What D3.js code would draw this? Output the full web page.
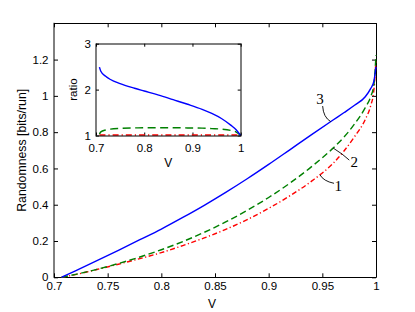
<!DOCTYPE html>
<html>
<head>
<meta charset="utf-8">
<script src="https://cdn.jsdelivr.net/npm/d3@7"></script>
<style>
  body { margin: 0; background: #fff; }
  text { font-family: "Liberation Sans", Arial, sans-serif; }
</style>
</head>
<body>
<div id="chart"></div>
<script>
// main plot: randomness vs V
var vGrid   = [0.7071, 0.72, 0.74, 0.76, 0.78, 0.80, 0.82, 0.84, 0.86, 0.88, 0.90, 0.92, 0.94, 0.96, 0.97, 0.98, 0.99, 0.995, 0.998, 1.0];
var curve1  = [0, 0.015, 0.043, 0.072, 0.103, 0.136, 0.175, 0.217, 0.264, 0.318, 0.380, 0.450, 0.530, 0.628, 0.695, 0.775, 0.87, 0.945, 1.03, 1.2];
var curve2  = [0, 0.016, 0.044, 0.076, 0.112, 0.152, 0.197, 0.248, 0.305, 0.369, 0.440, 0.520, 0.610, 0.712, 0.772, 0.845, 0.935, 0.995, 1.06, 1.225];
var curve3  = [0, 0.036, 0.092, 0.149, 0.207, 0.266, 0.330, 0.397, 0.468, 0.543, 0.622, 0.704, 0.786, 0.867, 0.907, 0.948, 0.995, 1.04, 1.08, 1.16];

// inset: ratio vs V
var ratioV  = [0.7071, 0.71, 0.72, 0.73, 0.75, 0.78, 0.80, 0.83, 0.86, 0.89, 0.92, 0.94, 0.96, 0.98, 0.99, 1.0];
var ratio1  = [1.01, 1.01, 1.01, 1.01, 1.01, 1.01, 1.01, 1.01, 1.01, 1.01, 1.01, 1.01, 1.01, 1.01, 1.01, 1.0];
var ratio2  = [1.03, 1.08, 1.12, 1.14, 1.155, 1.165, 1.168, 1.17, 1.17, 1.165, 1.16, 1.15, 1.14, 1.11, 1.08, 1.0];
var ratio3  = [2.49, 2.40, 2.29, 2.22, 2.13, 2.03, 1.97, 1.88, 1.78, 1.68, 1.57, 1.48, 1.37, 1.22, 1.13, 1.0];

var xTicks = [0.7, 0.75, 0.8, 0.85, 0.9, 0.95, 1];
var yTicks = [0, 0.2, 0.4, 0.6, 0.8, 1, 1.2];
var insetXTicks = [0.7, 0.8, 0.9, 1];
var insetYTicks = [1, 2, 3];

// curve labels, in data units (V, randomness)
var curveLabels = [
  {text: "3", at: [0.9478, 0.986], from: [0.9503, 0.944], ctrl: [0.9509, 0.882], to: [0.9578, 0.858]},
  {text: "2", at: [0.9798, 0.637], from: [0.9602, 0.712], ctrl: [0.9690, 0.680], to: [0.9751, 0.646]},
  {text: "1", at: [0.9649, 0.503], from: [0.9478, 0.565], ctrl: [0.9510, 0.530], to: [0.9609, 0.518]}
];

var W = 415, H = 312;
var margin = {top: 23.3, right: 39, bottom: 34.7, left: 54};

var svg = d3.select("#chart").append("svg")
    .attr("width", W)
    .attr("height", H);

var x = d3.scaleLinear().domain([0.7, 1]).range([margin.left, W - margin.right]);
var y = d3.scaleLinear().domain([0, 1.4]).range([H - margin.bottom, margin.top]);

var fontSize = 11.5;
var plain = function(d) { return String(d); };

function styleAxis(g) {
  g.attr("font-family", "Liberation Sans, Arial, sans-serif").attr("font-size", fontSize);
  g.select(".domain").remove();
  g.selectAll(".tick line").attr("stroke", "#000");
  g.selectAll(".tick text").attr("fill", "#000");
}

// main axes, ticks pointing in
svg.append("g")
    .attr("transform", "translate(0," + y(0) + ")")
    .call(d3.axisBottom(x).tickValues(xTicks).tickFormat(plain).tickSizeInner(-4).tickSizeOuter(0).tickPadding(4.5))
    .call(styleAxis);
svg.append("g")
    .attr("transform", "translate(0," + y(1.4) + ")")
    .call(d3.axisTop(x).tickValues(xTicks).tickSizeInner(-4).tickSizeOuter(0).tickFormat(""))
    .call(styleAxis);
svg.append("g")
    .attr("transform", "translate(" + x(0.7) + ",0)")
    .call(d3.axisLeft(y).tickValues(yTicks).tickFormat(plain).tickSizeInner(-4).tickSizeOuter(0).tickPadding(5.5))
    .call(styleAxis);
svg.append("g")
    .attr("transform", "translate(" + x(1) + ",0)")
    .call(d3.axisRight(y).tickValues(yTicks).tickSizeInner(-4).tickSizeOuter(0).tickFormat(""))
    .call(styleAxis);

// frame: left edge sits on a whole pixel so it comes out soft grey like the original
var frame = svg.append("g").attr("fill", "none").attr("stroke", "#000").attr("stroke-width", 1);
frame.append("line").attr("x1", x(0.7)).attr("x2", x(0.7)).attr("y1", y(0) + 0.5).attr("y2", y(1.4) - 0.5);
frame.append("line").attr("x1", x(0.7)).attr("x2", x(1) + 0.5).attr("y1", Math.round(y(0)) + 0.5).attr("y2", Math.round(y(0)) + 0.5);
frame.append("line").attr("x1", x(0.7)).attr("x2", x(1) + 0.5).attr("y1", Math.round(y(1.4)) + 0.5).attr("y2", Math.round(y(1.4)) + 0.5);
frame.append("line").attr("x1", Math.round(x(1)) + 0.5).attr("x2", Math.round(x(1)) + 0.5).attr("y1", y(0)).attr("y2", y(1.4));

var series = [
  {name: "1", values: curve1, color: "#ff0000", dash: "5,2.5,1.2,2.5"},
  {name: "2", values: curve2, color: "#008000", dash: "6.5,3.5"},
  {name: "3", values: curve3, color: "#0000ff", dash: null}
];

var line = d3.line()
    .x(function(d) { return x(d[0]); })
    .y(function(d) { return y(d[1]); })
    .curve(d3.curveMonotoneX);

svg.append("g").selectAll("path")
    .data(series)
    .enter().append("path")
    .attr("fill", "none")
    .attr("stroke", function(d) { return d.color; })
    .attr("stroke-width", 1.4)
    .attr("stroke-dasharray", function(d) { return d.dash; })
    .attr("d", function(d) { return line(d3.zip(vGrid, d.values)); });

// curve labels with leader lines
var labels = svg.append("g");
curveLabels.forEach(function(c) {
  labels.append("path")
      .attr("fill", "none")
      .attr("stroke", "#000")
      .attr("stroke-width", 0.9)
      .attr("d", "M" + x(c.from[0]) + "," + y(c.from[1]) +
                 "Q" + x(c.ctrl[0]) + "," + y(c.ctrl[1]) +
                 " " + x(c.to[0]) + "," + y(c.to[1]));
  labels.append("text")
      .attr("x", x(c.at[0]))
      .attr("y", y(c.at[1]))
      .attr("dy", "0.35em")
      .attr("text-anchor", "middle")
      .style("font-family", "'Liberation Serif', 'DejaVu Serif', serif")
      .style("font-size", "15px")
      .text(c.text);
});

// axis titles
svg.append("text")
    .attr("x", x(0.85) - 3)
    .attr("y", 308)
    .attr("text-anchor", "middle")
    .style("font-size", "12px")
    .text("V");
svg.append("text")
    .attr("transform", "translate(25.5," + y(0.7) + ") rotate(-90)")
    .attr("text-anchor", "middle")
    .style("font-size", "12.3px")
    .text("Randomness [bits/run]");

// inset
var ix = d3.scaleLinear().domain([0.7, 1]).range([96, 240.7]);
var iy = d3.scaleLinear().domain([1, 3]).range([135.5, 43.7]);

var inset = svg.append("g");
inset.append("rect")
    .attr("x", ix(0.7)).attr("y", iy(3))
    .attr("width", ix(1) - ix(0.7)).attr("height", iy(1) - iy(3))
    .attr("fill", "#fff");

inset.append("g")
    .attr("transform", "translate(0," + iy(1) + ")")
    .call(d3.axisBottom(ix).tickValues(insetXTicks).tickFormat(plain).tickSizeInner(-3).tickSizeOuter(0).tickPadding(8))
    .call(styleAxis);
inset.append("g")
    .attr("transform", "translate(0," + iy(3) + ")")
    .call(d3.axisTop(ix).tickValues(insetXTicks).tickSizeInner(-3).tickSizeOuter(0).tickFormat(""))
    .call(styleAxis);
inset.append("g")
    .attr("transform", "translate(" + ix(0.7) + ",0)")
    .call(d3.axisLeft(iy).tickValues(insetYTicks).tickFormat(plain).tickSizeInner(-3).tickSizeOuter(0).tickPadding(5))
    .call(styleAxis);
inset.append("g")
    .attr("transform", "translate(" + ix(1) + ",0)")
    .call(d3.axisRight(iy).tickValues(insetYTicks).tickSizeInner(-3).tickSizeOuter(0).tickFormat(""))
    .call(styleAxis);

var iline = d3.line()
    .x(function(d) { return ix(d[0]); })
    .y(function(d) { return iy(d[1]); })
    .curve(d3.curveMonotoneX);

var insetSeries = [
  {values: ratio1, color: "#ff0000", dash: "6,3,1.2,3"},
  {values: ratio2, color: "#008000", dash: "8,4.5"},
  {values: ratio3, color: "#0000ff", dash: null}
];

inset.append("g").selectAll("path")
    .data(insetSeries)
    .enter().append("path")
    .attr("fill", "none")
    .attr("stroke", function(d) { return d.color; })
    .attr("stroke-width", 1.4)
    .attr("stroke-dasharray", function(d) { return d.dash; })
    .attr("d", function(d) { return iline(d3.zip(ratioV, d.values)); });

inset.append("rect")
    .attr("x", Math.round(ix(0.7))).attr("y", Math.round(iy(3)))
    .attr("width", Math.round(ix(1)) - Math.round(ix(0.7)))
    .attr("height", Math.round(iy(1)) - Math.round(iy(3)))
    .attr("fill", "none")
    .attr("stroke", "#000")
    .attr("stroke-width", 1);

inset.append("text")
    .attr("x", ix(0.85))
    .attr("y", 166.5)
    .attr("text-anchor", "middle")
    .style("font-size", "12px")
    .text("V");
inset.append("text")
    .attr("transform", "translate(77," + iy(2) + ") rotate(-90)")
    .attr("text-anchor", "middle")
    .style("font-size", "11.5px")
    .text("ratio");
</script>
</body>
</html>
